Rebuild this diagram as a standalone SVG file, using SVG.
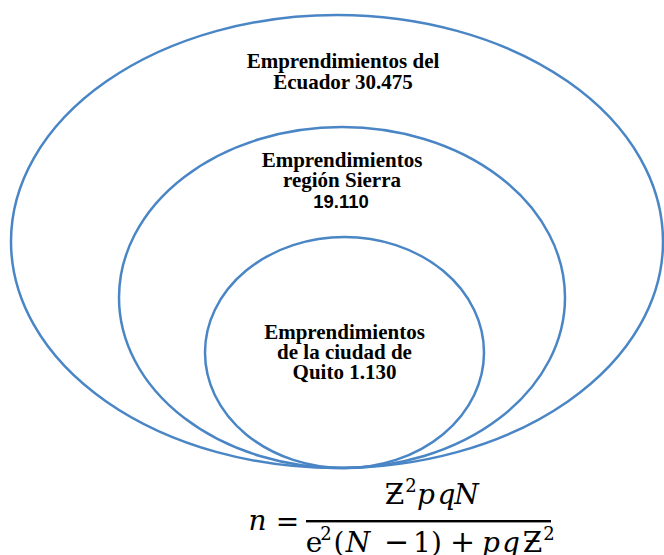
<svg xmlns="http://www.w3.org/2000/svg" width="664" height="555" viewBox="0 0 664 555">
<style>
.ring{fill:none;stroke:#4a86c5;stroke-width:2.5}
.lbl{font-family:"Liberation Serif","Times New Roman",serif;font-weight:bold;font-size:21px;fill:#000;text-anchor:middle}
.num{font-family:"Liberation Sans",Arial,sans-serif;font-weight:bold;font-size:18.5px}
.m{font-family:"DejaVu Serif","Liberation Serif",serif;font-size:28px;fill:#000;text-anchor:middle}
.i{font-style:italic}
.s{font-size:18px}
.op{font-size:30px}
</style>
<rect width="664" height="555" fill="#fff"/>
<g id="connectors"></g>
<g id="ecuador">
<ellipse class="ring" cx="337" cy="241.5" rx="326" ry="226.5"/>
<text class="lbl" x="343" y="68">Emprendimientos del</text>
<text class="lbl" x="343" y="88.5">Ecuador 30.475</text>
</g>
<g id="sierra">
<ellipse class="ring" cx="342" cy="297.5" rx="223" ry="170.5"/>
<text class="lbl" x="342" y="167">Emprendimientos</text>
<text class="lbl" x="342" y="187">región Sierra</text>
<text class="lbl num" x="341" y="208">19.110</text>
</g>
<g id="quito">
<ellipse class="ring" cx="344.5" cy="352.5" rx="139.5" ry="115.5"/>
<text class="lbl" x="344.5" y="339">Emprendimientos</text>
<text class="lbl" x="344.5" y="359">de la ciudad de</text>
<text class="lbl" x="344.5" y="379">Quito 1.130</text>
</g>
<g id="formula">
<text class="m i" x="257.5" y="530" font-size="32">n</text>
<text class="m" x="287.5" y="531" font-size="32">=</text>
<rect x="306" y="520" width="245" height="2.4" fill="#000"/>
<text class="m" y="504"><tspan x="394.5">Ƶ</tspan><tspan class="s" x="411" y="492">2</tspan><tspan class="i" x="426" y="504">p</tspan><tspan class="i" x="446.5">q</tspan><tspan class="i" x="466.5">N</tspan></text>
<text class="m" y="552"><tspan x="314">e</tspan><tspan class="s" x="326" y="540">2</tspan><tspan x="339" y="552">(</tspan><tspan class="i" x="358">N</tspan><tspan class="op" x="396.5">−</tspan><tspan x="422">1</tspan><tspan x="436.5">)</tspan><tspan class="op" x="462.5">+</tspan><tspan class="i" x="491">p</tspan><tspan class="i" x="511">q</tspan><tspan x="532.5">Ƶ</tspan><tspan class="s" x="549" y="540">2</tspan></text>
</g>
</svg>
